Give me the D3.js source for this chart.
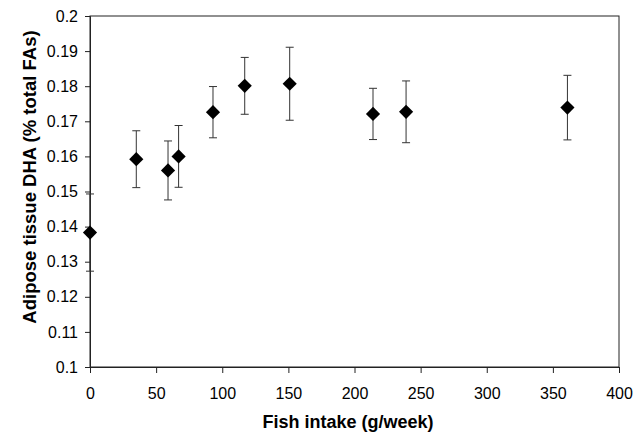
<!DOCTYPE html>
<html>
<head>
<meta charset="utf-8">
<script src="https://cdn.jsdelivr.net/npm/d3@7"></script>
<style>
  body { margin: 0; background: #fff; }
  text { font-family: Arial, "Liberation Sans", sans-serif; fill: #000; }
</style>
</head>
<body>
<div id="container"></div>
<script>
// fish intake (g/week), adipose DHA (% total FAs) and its error
const intake = [0, 35, 59, 67, 93, 117, 151, 214, 239, 361];
const dha = [0.1383, 0.1592, 0.1560, 0.1600, 0.1726, 0.1801, 0.1807, 0.1721, 0.1727, 0.1739];
const err = [0.0110, 0.0081, 0.0084, 0.0088, 0.0073, 0.0081, 0.0104, 0.0073, 0.0088, 0.0092];
const xTicks = [0, 50, 100, 150, 200, 250, 300, 350, 400];
const yTicks = [0.1, 0.11, 0.12, 0.13, 0.14, 0.15, 0.16, 0.17, 0.18, 0.19, 0.2];

const margin = { top: 16, right: 16, bottom: 68, left: 90 };
const width = 635 - margin.left - margin.right;
const height = 435 - margin.top - margin.bottom;

const svg = d3.select("#container").append("svg")
  .attr("width", 635)
  .attr("height", 435);

const g = svg.append("g")
  .attr("transform", `translate(${margin.left},${margin.top})`);

const x = d3.scaleLinear().domain([0, 400]).range([0, width]);
const y = d3.scaleLinear().domain([0.1, 0.2]).range([height, 0]);

// frame
g.append("rect")
  .attr("width", width)
  .attr("height", height)
  .attr("fill", "none")
  .attr("stroke", "#222")
  .attr("stroke-width", 1);

// axes
const xAxis = g.append("g")
  .attr("transform", `translate(0,${height})`)
  .call(d3.axisBottom(x).tickValues(xTicks).tickSize(6).tickPadding(15).tickFormat(d3.format("d")));

const yAxis = g.append("g")
  .call(d3.axisLeft(y).tickValues(yTicks).tickSize(5).tickPadding(7).tickFormat(d => d === 0.1 || d === 0.2 ? d.toFixed(1) : d.toFixed(2)));

[xAxis, yAxis].forEach(a => {
  a.select(".domain").attr("stroke", "#222");
  a.selectAll(".tick line").attr("stroke", "#222");
  a.selectAll("text")
    .style("font-size", "16px")
    .style("font-family", "Arial, 'Liberation Sans', sans-serif")
    .attr("fill", "#000");
});

// error bars
const bars = g.selectAll(".err")
  .data(intake)
  .enter()
  .append("g")
  .attr("class", "err");

bars.append("line")
  .attr("x1", d => x(d))
  .attr("x2", d => x(d))
  .attr("y1", (d, i) => y(dha[i] - err[i]))
  .attr("y2", (d, i) => y(dha[i] + err[i]))
  .attr("stroke", "#333");

[-1, 1].forEach(s => {
  bars.append("line")
    .attr("x1", d => x(d) - 4)
    .attr("x2", d => x(d) + 4)
    .attr("y1", (d, i) => y(dha[i] + s * err[i]))
    .attr("y2", (d, i) => y(dha[i] + s * err[i]))
    .attr("stroke", "#333");
});

// diamonds
g.selectAll(".pt")
  .data(intake)
  .enter()
  .append("path")
  .attr("class", "pt")
  .attr("d", d3.symbol().type(d3.symbolDiamond2).size(128))
  .attr("transform", (d, i) => `translate(${x(d)},${y(dha[i])})`)
  .attr("fill", "#000");

// titles
svg.append("text")
  .attr("x", 348)
  .attr("y", 428)
  .attr("text-anchor", "middle")
  .style("font-size", "18px")
  .style("font-weight", "bold")
  .text("Fish intake (g/week)");

svg.append("text")
  .attr("transform", "translate(36,177) rotate(-90)")
  .attr("text-anchor", "middle")
  .style("font-size", "18.5px")
  .style("font-weight", "bold")
  .text("Adipose tissue DHA (% total FAs)");
</script>
</body>
</html>
